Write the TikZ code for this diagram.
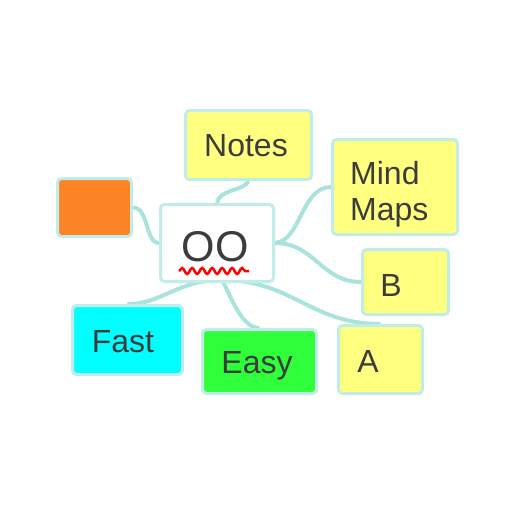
\documentclass[tikz,border=0pt]{standalone}
\usepackage{fontspec}
\setmainfont{Liberation Sans}
\usetikzlibrary{backgrounds,decorations.pathmorphing}
\definecolor{linec}{HTML}{A8E4DC}
\definecolor{bordc}{HTML}{C2ECE8}
\definecolor{yel}{HTML}{FFFF80}
\definecolor{org}{HTML}{FC8424}
\definecolor{cya}{HTML}{00FFFF}
\definecolor{grn}{HTML}{2EFF3A}
\definecolor{txt}{HTML}{3C3C3C}
\tikzset{
  box/.style={draw=bordc, line width=3pt, rounded corners=4pt, inner sep=0pt, anchor=north west},
  conn/.style={draw=linec, line width=4pt},
  lbl/.style={text=txt, font=\fontsize{32}{36}\selectfont, inner sep=0pt, align=left},
}
\begin{document}
\begin{tikzpicture}[x=1pt,y=-1pt]
\useasboundingbox (0,0) rectangle (512,512);
\node[box, fill=white, minimum width=113pt, minimum height=77pt] (c) at (159,203) {};
\node[box, fill=yel, minimum width=126pt, minimum height=69pt] (notes) at (184,109) {};
\node[box, fill=org, minimum width=74pt, minimum height=58pt] (orange) at (56,177) {};
\node[box, fill=yel, minimum width=125pt, minimum height=95pt] (mm) at (331,138) {};
\node[box, fill=yel, minimum width=86pt, minimum height=65pt] (b) at (361,248) {};
\node[box, fill=yel, minimum width=84pt, minimum height=68pt] (a) at (337,324) {};
\node[box, fill=cya, minimum width=110pt, minimum height=69pt] (fast) at (71,304) {};
\node[box, fill=grn, minimum width=114pt, minimum height=64pt] (easy) at (201,328) {};
\coordinate (bt) at (222,280);
\begin{scope}[on background layer]
\draw[conn] (217,203) .. controls +(2,-14) and +(-4,10) .. (notes.south);
\draw[conn] (orange.east) .. controls +(16,0) and +(-14,0) .. (c.west);
\draw[conn] (c.east) .. controls +(26,-2) and +(-30,0) .. (mm.west);
\draw[conn] (c.east) .. controls +(40,0) and +(-40,0) .. (b.west);
\draw[conn] (bt) .. controls +(-45,0) and +(35,0) .. (fast.north);
\draw[conn] (bt) .. controls +(10,18) and +(-18,0) .. (easy.north);
\draw[conn] (bt) .. controls +(70,0) and +(-70,0) .. (a.north);
\end{scope}
\node[lbl] (tnotes) at (246,146) {Notes};
\node[lbl, anchor=north west] (tmm) at (350,161) {Mind\\Maps};
\node[lbl] (tb) at (391,285) {B};
\node[lbl] (ta) at (368,361) {A};
\node[lbl] (tfast) at (123,342) {Fast};
\node[lbl] (teasy) at (257,366) {Easy};
\node[text=txt, font=\fontsize{43}{48}\selectfont, inner sep=0pt] (too) at (215,247) {OO};
\draw[red, line width=2.5pt, decorate, decoration={snake, segment length=10pt, amplitude=3pt}] (179,271) -- (249,271);
\end{tikzpicture}
\end{document}
